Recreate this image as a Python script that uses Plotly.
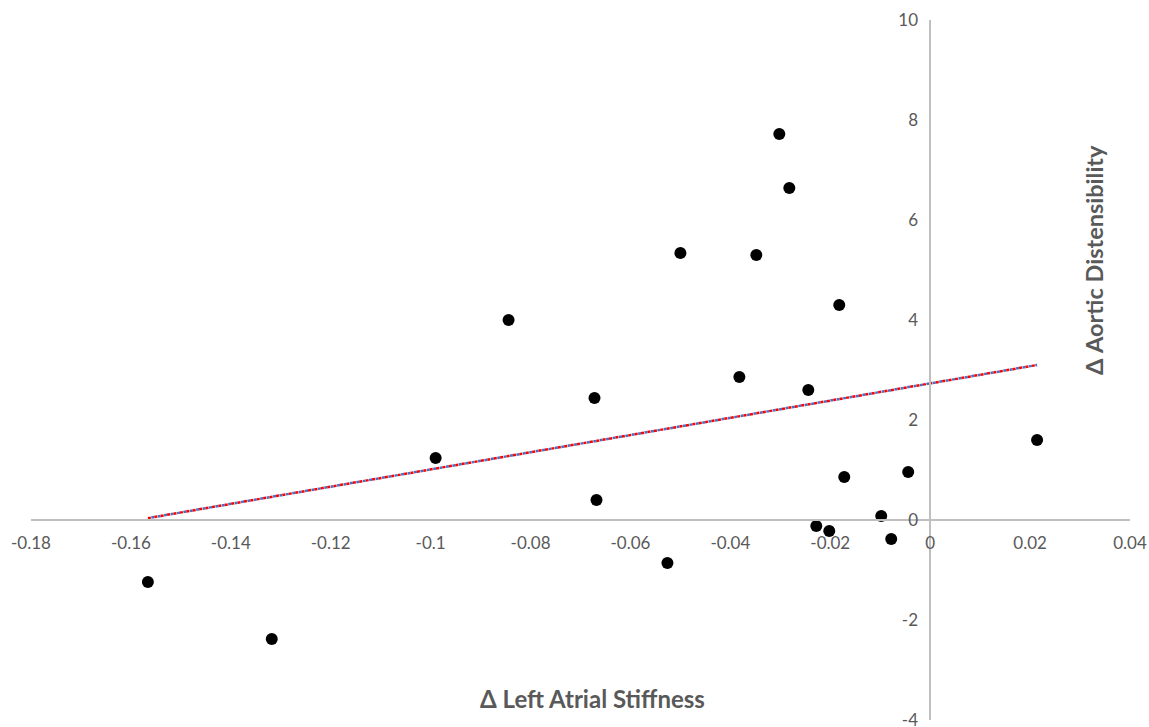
import numpy as np
import plotly.graph_objects as go

# Data
la_stiffness = [-0.1566, -0.1318, -0.0990, -0.0844, -0.0672, -0.0668, -0.0526, -0.0500,
                -0.0382, -0.0348, -0.0302, -0.0282, -0.0244, -0.0228, -0.0202, -0.0182,
                -0.0172, -0.0098, -0.0078, -0.0044, 0.0214]
aortic_dist = [-1.24, -2.38, 1.24, 4.00, 2.44, 0.40, -0.86, 5.34,
               2.86, 5.30, 7.72, 6.64, 2.60, -0.12, -0.22, 4.30,
               0.86, 0.08, -0.38, 0.96, 1.60]

x_ticks = [-0.18, -0.16, -0.14, -0.12, -0.1, -0.08, -0.06, -0.04, -0.02, 0, 0.02, 0.04]
x_tick_labels = ["-0.18", "-0.16", "-0.14", "-0.12", "-0.1", "-0.08", "-0.06", "-0.04", "-0.02", "0", "0.02", "0.04"]
y_ticks = [-4, -2, 0, 2, 4, 6, 8, 10]
y_tick_labels = ["-4", "-2", "0", "2", "4", "6", "8", "10"]

x_range = [-0.18, 0.04]
y_range = [-4, 10]

# Linear trendline fitted to the data
slope, intercept = np.polyfit(la_stiffness, aortic_dist, 1)
tx = np.array([min(la_stiffness), max(la_stiffness)])
ty = slope * tx + intercept

gray = "#595959"
font_family = "Lato, 'Open Sans', sans-serif"

fig = go.Figure()
fig.add_trace(go.Scatter(x=tx, y=ty, mode="lines",
                         line=dict(color="#4472c4", width=2.5, dash="0px,3.5px,3px,0px"),
                         hoverinfo="skip", showlegend=False))
fig.add_trace(go.Scatter(x=tx, y=ty, mode="lines",
                         line=dict(color="#ff0000", width=2.5, dash="3px,3.5px"),
                         hoverinfo="skip", showlegend=False))
fig.add_trace(go.Scatter(x=la_stiffness, y=aortic_dist, mode="markers",
                         marker=dict(color="black", size=12),
                         showlegend=False))

x_pos = (0 - y_range[0]) / (y_range[1] - y_range[0])
y_pos = (0 - x_range[0]) / (x_range[1] - x_range[0])

W, H = 1149, 727
L, T = 31, 20
R = W - 1130
B = H - 720
pw, ph = W - L - R, H - T - B

fig.update_layout(
    width=W, height=H,
    margin=dict(l=L, r=R, t=T, b=B, autoexpand=False),
    paper_bgcolor="white", plot_bgcolor="white",
    font=dict(family=font_family, color=gray, size=17),
    xaxis=dict(range=x_range, tickvals=x_ticks, ticktext=x_tick_labels,
               showgrid=False, zeroline=False, showline=True, linecolor="#bfbfbf",
               linewidth=1.5, ticks="", anchor="free", position=x_pos, automargin=False,
               ticklabeloverflow="allow",
               ticklabelstandoff=8, tickfont=dict(size=17, color=gray)),
    yaxis=dict(range=y_range, tickvals=y_ticks, ticktext=y_tick_labels,
               showgrid=False, zeroline=False, showline=True, linecolor="#bfbfbf",
               linewidth=1.5, ticks="", anchor="free", position=y_pos, automargin=False,
               ticklabeloverflow="allow",
               ticklabelstandoff=8, tickfont=dict(size=17, color=gray)),
)
fig.add_annotation(text="<b>Δ Left Atrial Stiffness</b>", xref="paper", yref="paper",
                   x=(592 - L) / pw, y=(H - B - 698) / ph, showarrow=False,
                   xanchor="center", yanchor="middle",
                   font=dict(size=24, color=gray))
fig.add_annotation(text="<b>Δ Aortic Distensibility</b>", xref="paper", yref="paper",
                   x=(1094 - L) / pw, y=(H - B - 260) / ph, showarrow=False,
                   xanchor="center", yanchor="middle",
                   textangle=-90, font=dict(size=23.5, color=gray))

fig.write_html("out.html", config={"displayModeBar": False},
               post_script="document.body.style.margin='0';document.body.style.overflow='hidden';")
